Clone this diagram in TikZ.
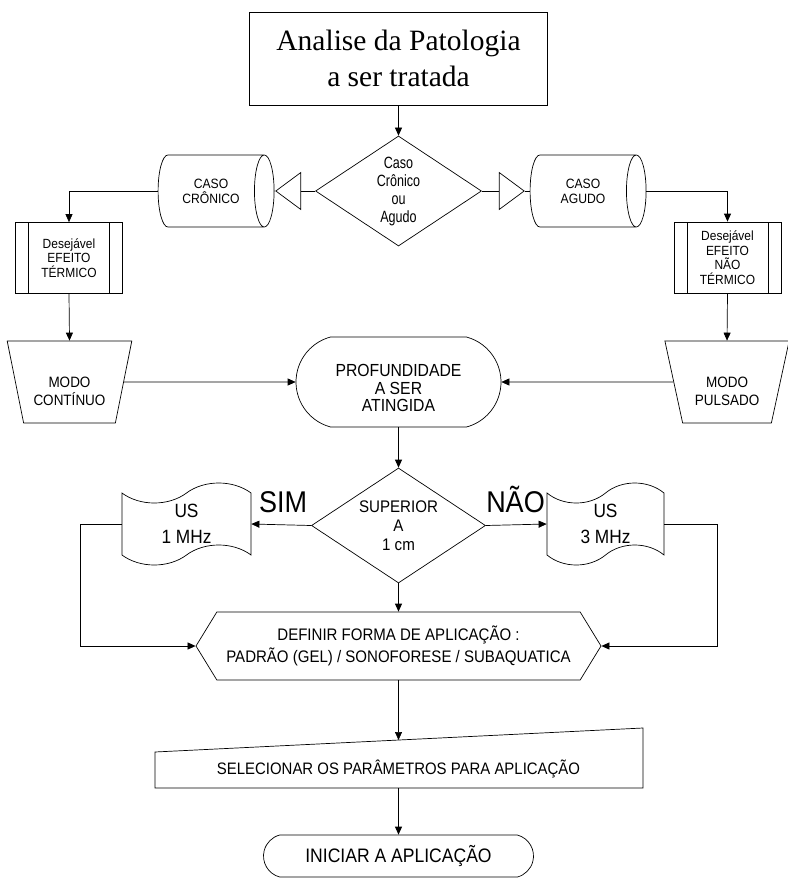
\documentclass[tikz,border=0pt]{standalone}
\usepackage{fontspec}
\setmainfont{Liberation Sans}[FakeStretch=0.9]
\newfontfamily\narrowsf{Liberation Sans}[FakeStretch=0.77]
\newfontfamily\serifrm{Liberation Serif}
\usetikzlibrary{arrows.meta, shapes.geometric, shapes.misc, shapes.symbols}

\begin{document}
\begin{tikzpicture}[
  x=1pt, y=-1pt, line width=0.7pt,
  box/.style={draw, align=center},
  decision/.style={draw, diamond, aspect=1.5, inner sep=0pt, align=center},
  gate/.style={draw, isosceles triangle, isosceles triangle stretches, inner sep=0pt, minimum width=37, minimum height=25},
  storage/.style={draw, cylinder, aspect=0.8, minimum width=72, minimum height=116, inner sep=0pt, align=center, font=\fontsize{13.5}{15}\selectfont},
  predef/.style={draw, align=center, minimum width=107, minimum height=71, font=\fontsize{13.3}{14.5}\selectfont,
    path picture={\draw ([xshift=13pt]path picture bounding box.north west) -- ([xshift=13pt]path picture bounding box.south west);
                  \draw ([xshift=-13pt]path picture bounding box.north east) -- ([xshift=-13pt]path picture bounding box.south east);}},
  manual/.style={draw, trapezium, trapezium left angle=105, trapezium right angle=105, trapezium stretches, minimum width=125, minimum height=82, inner sep=0pt, align=center, font=\fontsize{15}{18}\selectfont},
  term/.style={draw, rounded rectangle, rounded rectangle arc length=150, inner sep=0pt, align=center},
  tapebox/.style={draw, tape, tape bend top=in and out, tape bend bottom=in and out, tape bend height=20, minimum width=129, minimum height=82, inner sep=0pt, align=center, font=\fontsize{19.2}{26}\selectfont},
  prep/.style={draw, signal, signal to=west and east, signal pointer angle=117, minimum width=405, minimum height=68, inner sep=0pt, align=center},
  arr/.style={-{Triangle[length=8pt,width=7pt]}}
]
\useasboundingbox (0,0) rectangle (787,880);

\node[box, minimum width=298, minimum height=93, font=\serifrm\fontsize{29.5}{36}\selectfont] (analise) at (398.5,58.5) {Analise da Patologia\\a ser tratada};
\node[decision, minimum width=166, minimum height=110, font=\narrowsf\fontsize{16.3}{18}\selectfont] (caso) at (398.5,191) {Caso\\Crônico\\ou\\Agudo};
\node[gate, shape border rotate=180] (trileft) at (291.5,191) {};
\node[gate] (triright) at (508.5,191) {};
\node[storage] (cron) at (211,191) {CASO\\CRÔNICO};
\node[storage] (agudo) at (583,191) {CASO\\AGUDO};
\node[predef] (deslef) at (69,258) {Desejável\\EFEITO\\TÉRMICO};
\node[predef] (desrig) at (727.5,257.5) {Desejável\\EFEITO\\NÃO\\TÉRMICO};
\node[manual] (modcont) at (69.5,382) {\rule{0pt}{30pt}MODO\\CONTÍNUO};
\node[manual] (modpul) at (727,382) {\rule{0pt}{30pt}MODO\\PULSADO};
\node[term, minimum width=205, minimum height=90, font=\fontsize{17.5}{17.5}\selectfont] (prof) at (398.5,382) {\rule{0pt}{25pt}PROFUNDIDADE\\A SER\\ATINGIDA};
\node[decision, minimum width=174, minimum height=115, font=\fontsize{16.8}{19}\selectfont] (sup) at (398.5,525.5) {SUPERIOR\\A\\1 cm};
\node[tapebox] (us1) at (186.5,524) {US\\1 MHz};
\node[tapebox, minimum width=117] (us3) at (605.5,524) {US\\3 MHz};
\node[font=\fontsize{30}{30}\selectfont, anchor=base] (sim) at (283,512) {SIM};
\node[font=\fontsize{30}{30}\selectfont, anchor=base] (nao) at (515.5,512) {NÃO};
\node[prep, font=\fontsize{16.7}{22}\selectfont] (defin) at (398.5,646) {DEFINIR FORMA DE APLICAÇÃO :\\PADRÃO (GEL) / SONOFORESE / SUBAQUATICA};
\node[font=\fontsize{16.6}{18}\selectfont] (selec) at (398.5,769) {SELECIONAR OS PARÂMETROS PARA APLICAÇÃO};
\coordinate (selin) at (398.5,740);
\coordinate (selout) at (398.5,788);
\draw (155,752) -- (643,728) -- (643,788) -- (155,788) -- cycle;
\node[term, minimum width=270, minimum height=42, font=\fontsize{19.5}{20}\selectfont] (inic) at (398.5,856) {INICIAR A APLICAÇÃO};

\draw[arr] (analise.south) -- (caso.north);
\draw (caso.west) -- (trileft);
\draw (trileft.apex) -- (cron.east);
\draw (caso.east) -- (triright);
\draw (triright.apex) -- (agudo.west);
\draw[arr] (cron.west) -| (deslef.north);
\draw[arr] (agudo.east) -| (desrig.north);
\draw[arr] (deslef.south) -- (modcont.north);
\draw[arr] (desrig.south) -- (modpul.north);
\draw[arr] (modcont.east) -- (prof.west);
\draw[arr] (modpul.west) -- (prof.east);
\draw[arr] (prof.south) -- (sup.north);
\draw[arr] (sup.west) -- (us1.east);
\draw[arr] (sup.east) -- (us3.west);
\draw[arr] (sup.south) -- (defin.north);
\draw[arr] (us1.west) -- ++(-41,0) |- (defin.west);
\draw[arr] (us3.east) -- ++(53,0) |- (defin.east);
\draw[arr] (defin.south) -- (selin);
\draw[arr] (selout) -- (inic.north);
\end{tikzpicture}
\end{document}
